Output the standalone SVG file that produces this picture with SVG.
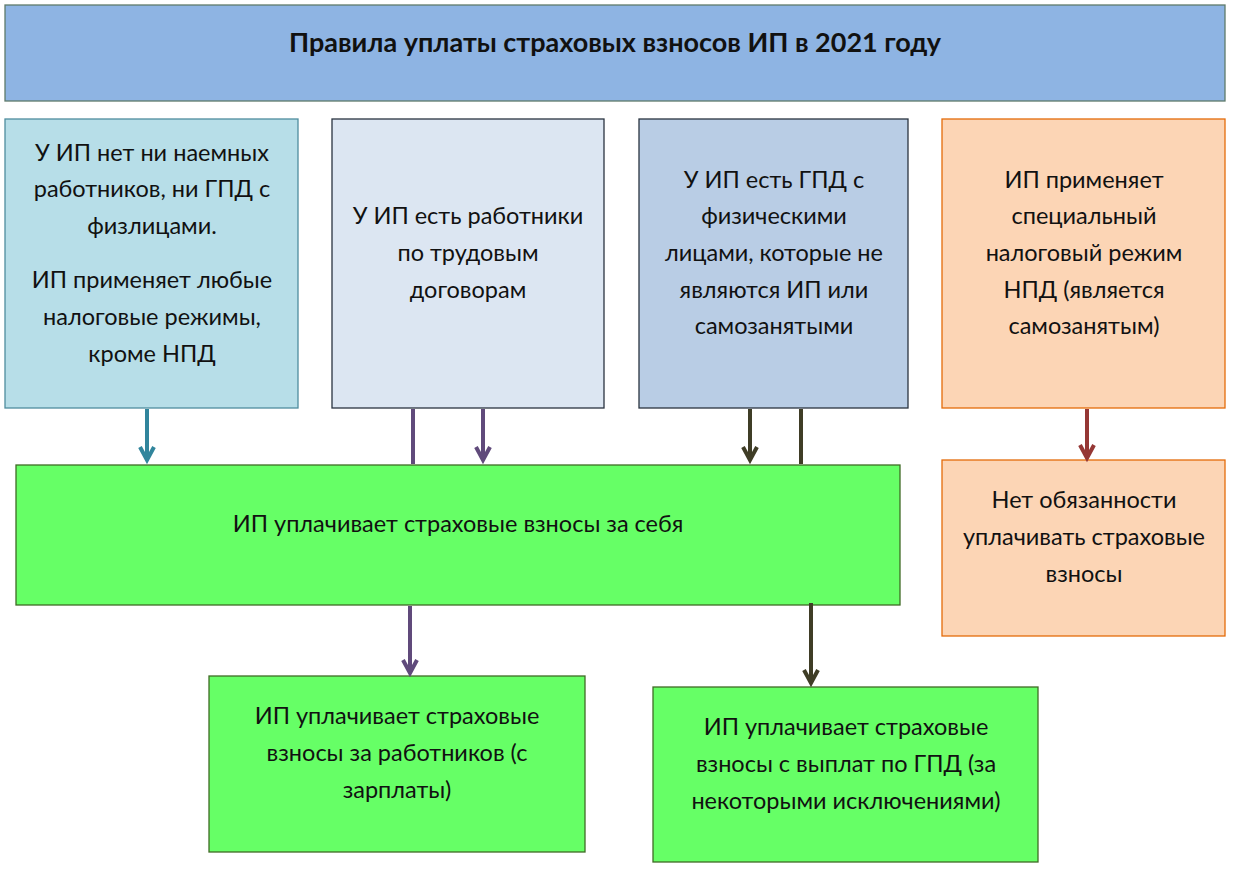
<svg xmlns="http://www.w3.org/2000/svg" width="1234" height="873" viewBox="0 0 1234 873">
<style>
  text { font-family: Lato, "Open Sans", "Liberation Sans", sans-serif; font-size: 23.5px; fill: #111; text-anchor: middle; }
  .title { font-weight: bold; font-size: 27px; }
  .node rect { stroke-width: 1.3; }
  .green rect { fill: #66FF66; stroke: #3F6B25; }
  .peach rect { fill: #FCD5B5; stroke: #E46C0A; }
  .conn line, .conn polyline { stroke-width: 4; fill: none; }
</style>
<rect width="1234" height="873" fill="#FFFFFF"/>

<g id="title" class="node">
  <rect x="5" y="5" width="1220" height="96" fill="#8EB4E3" stroke="#5F7A6A"/>
  <text class="title" x="615" y="52">Правила уплаты страховых взносов ИП в 2021 году</text>
</g>

<g id="box1" class="node">
  <rect x="5" y="119" width="293" height="289" fill="#B7DEE8" stroke="#4F8D9E"/>
  <text x="152" y="161">У ИП нет ни наемных</text>
  <text x="152" y="197">работников, ни ГПД с</text>
  <text x="152" y="234">физлицами.</text>
  <text x="152" y="288">ИП применяет любые</text>
  <text x="152" y="325">налоговые режимы,</text>
  <text x="152" y="362">кроме НПД</text>
</g>

<g id="box2" class="node">
  <rect x="332" y="119" width="272" height="289" fill="#DCE6F2" stroke="#2A3440"/>
  <text x="468" y="224">У ИП есть работники</text>
  <text x="468" y="261">по трудовым</text>
  <text x="468" y="298">договорам</text>
</g>

<g id="box3" class="node">
  <rect x="639" y="119" width="269" height="289" fill="#B9CDE5" stroke="#2A3440"/>
  <text x="774" y="188">У ИП есть ГПД с</text>
  <text x="774" y="224">физическими</text>
  <text x="774" y="261">лицами, которые не</text>
  <text x="774" y="298">являются ИП или</text>
  <text x="774" y="334">самозанятыми</text>
</g>

<g id="box4" class="node peach">
  <rect x="942" y="119" width="283" height="289"/>
  <text x="1084" y="188">ИП применяет</text>
  <text x="1084" y="224">специальный</text>
  <text x="1084" y="261">налоговый режим</text>
  <text x="1084" y="298">НПД (является</text>
  <text x="1084" y="334">самозанятым)</text>
</g>

<g id="main" class="node green">
  <rect x="16" y="465" width="884" height="140"/>
  <text x="458" y="532">ИП уплачивает страховые взносы за себя</text>
</g>

<g id="noduty" class="node peach">
  <rect x="942" y="460" width="283" height="176"/>
  <text x="1084" y="508">Нет обязанности</text>
  <text x="1084" y="545">уплачивать страховые</text>
  <text x="1084" y="582">взносы</text>
</g>

<g id="workers" class="node green">
  <rect x="209" y="676" width="376" height="176"/>
  <text x="397" y="724">ИП уплачивает страховые</text>
  <text x="397" y="761">взносы за работников (с</text>
  <text x="397" y="798">зарплаты)</text>
</g>

<g id="gpd" class="node green">
  <rect x="653" y="687" width="385" height="175"/>
  <text x="846" y="735">ИП уплачивает страховые</text>
  <text x="846" y="772">взносы с выплат по ГПД (за</text>
  <text x="846" y="809">некоторыми исключениями)</text>
</g>

<g id="connectors" class="conn">
  <line x1="147" y1="409" x2="147" y2="460" stroke="#31859C"/>
  <polyline points="140,447 147,460 154,447" stroke="#31859C"/>

  <line x1="413" y1="409" x2="413" y2="464" stroke="#604A7B"/>
  <line x1="483" y1="409" x2="483" y2="460" stroke="#604A7B"/>
  <polyline points="476,447 483,460 490,447" stroke="#604A7B"/>

  <line x1="750" y1="409" x2="750" y2="460" stroke="#3F3D26"/>
  <polyline points="743,447 750,460 757,447" stroke="#3F3D26"/>
  <line x1="801" y1="409" x2="801" y2="464" stroke="#3F3D26"/>

  <line x1="1087" y1="409" x2="1087" y2="458" stroke="#953735"/>
  <polyline points="1080,445 1087,458 1094,445" stroke="#953735"/>

  <line x1="410" y1="606" x2="410" y2="673" stroke="#604A7B"/>
  <polyline points="403,660 410,673 417,660" stroke="#604A7B"/>

  <line x1="811" y1="603" x2="811" y2="683" stroke="#3F3D26"/>
  <polyline points="804,670 811,683 818,670" stroke="#3F3D26"/>
</g>
</svg>
